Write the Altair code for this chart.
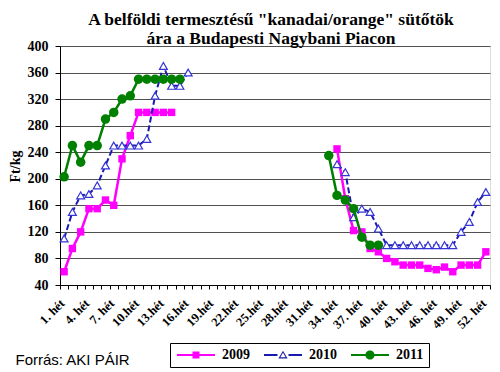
import altair as alt
import pandas as pd

# ---------------- data ----------------
years = ["2009", "2010", "2011"]
colors = ["#FF00FF", "#1A1AB0", "#008000"]

w2009_a = [1, 2, 3, 4, 5, 6, 7, 8, 9, 10, 11, 12, 13, 14]
v2009_a = [60, 95, 120, 155, 155, 168, 160, 230, 265, 300, 300, 300, 300, 300]
w2009_b = [34, 35, 36, 37, 38, 39, 40, 41, 42, 43, 44, 45, 46, 47, 48, 49, 50, 51, 52]
v2009_b = [245, 170, 122, 120, 95, 90, 80, 75, 70, 70, 70, 65, 63, 67, 60, 70, 70, 70, 90]

w2010_a = [1, 2, 3, 4, 5, 6, 7, 8, 9, 10, 11, 12, 13, 14, 15, 16]
v2010_a = [110, 150, 175, 177, 190, 220, 250, 250, 250, 250, 260, 325, 370, 340, 340, 360]
w2010_b = [34, 35, 36, 37, 38, 39, 40, 41, 42, 43, 44, 45, 46, 47, 48, 49, 50, 51, 52]
v2010_b = [222, 210, 142, 155, 150, 125, 100, 100, 100, 100, 100, 100, 100, 100, 100, 120, 135, 165, 180]

w2011_a = [1, 2, 3, 4, 5, 6, 7, 8, 9, 10, 11, 12, 13, 14, 15]
v2011_a = [203, 250, 225, 250, 250, 290, 300, 320, 325, 350, 350, 350, 350, 350, 350]
w2011_b = [33, 34, 35, 36, 37, 38, 39]
v2011_b = [235, 175, 168, 155, 112, 100, 100]

all_weeks = [1, 2, 3, 4, 5, 6, 7, 8, 9, 10, 11, 12, 13, 14, 15, 16, 17, 18, 19, 20,
             21, 22, 23, 24, 25, 26, 27, 28, 29, 30, 31, 32, 33, 34, 35, 36, 37, 38,
             39, 40, 41, 42, 43, 44, 45, 46, 47, 48, 49, 50, 51, 52]
tick_weeks = [1, 4, 7, 10, 13, 16, 19, 22, 25, 28, 31, 34, 37, 40, 43, 46, 49, 52]
tick_labels = ["1. hét", "4. hét", "7. hét", "10.hét", "13.hét", "16.hét", "19.hét",
               "22.hét", "25.hét", "28.hét", "31.hét", "34. hét", "37. hét", "40. hét",
               "43. hét", "46. hét", "49. hét", "52. hét"]
y_ticks = [40, 80, 120, 160, 200, 240, 280, 320, 360, 400]

title_lines = ['A belföldi termesztésű "kanadai/orange" sütőtök',
               'ára a Budapesti  Nagybani Piacon']

rows = []
for year, segs in [("2009", [(w2009_a, v2009_a), (w2009_b, v2009_b)]),
                   ("2010", [(w2010_a, v2010_a), (w2010_b, v2010_b)]),
                   ("2011", [(w2011_a, v2011_a), (w2011_b, v2011_b)])]:
    for i, (ws, vs) in enumerate(segs):
        for w, v in zip(ws, vs):
            rows.append({"year": year, "week": w, "value": v, "seg": f"{year}-{i}"})
df = pd.DataFrame(rows)

# ---------------- encodings ----------------
label_expr = ""
for w, l in zip(tick_weeks, tick_labels):
    label_expr += f"datum.value == {w} ? '{l}' : "
label_expr += "''"

serif = "Liberation Serif"

x_enc = alt.X(
    "week:O",
    scale=alt.Scale(type="band", domain=all_weeks, paddingInner=0, paddingOuter=0),
    title="Forrás: AKI PÁIR",
    axis=alt.Axis(
        labelExpr=label_expr, labelAngle=-45, labelAlign="right", labelBaseline="middle",
        labelPadding=12, labelOffset=-2, labelOverlap=False, labelFont=serif,
        labelFontWeight="bold", labelFontSize=12.5, labelColor="black",
        tickBand="extent", tickSize=4, tickColor="black", domainColor="black", grid=False,
        titleFont="Liberation Sans", titleFontWeight="normal", titleFontSize=15,
        titleColor="black", titleX=-45, titleY=74, titleAlign="left",
        titleBaseline="middle", titleAngle=0,
    ),
)
y_enc = alt.Y(
    "value:Q",
    scale=alt.Scale(domain=[40, 400], nice=False, zero=False),
    title="Ft/kg",
    axis=alt.Axis(
        values=y_ticks, labelFont=serif, labelFontWeight="bold", labelFontSize=14,
        labelColor="black", labelPadding=7, tickSize=5, tickColor="black",
        domainColor="black", grid=True, gridColor="#505050", gridWidth=1,
        titleFont=serif, titleFontWeight="bold", titleFontSize=14, titleColor="black",
        titleX=-45, titleY=120, titleAngle=-90, titleAlign="center", titleBaseline="middle",
    ),
)

base = alt.Chart(df)


def line_layer(year, color, width, dash=None):
    kw = dict(color=color, strokeWidth=width)
    if dash is not None:
        kw["strokeDash"] = dash
    return (base.transform_filter(alt.datum.year == year)
            .mark_line(**kw)
            .encode(x=x_enc, y=y_enc, detail="seg:N"))


l09 = line_layer("2009", "#FF00FF", 2.5)
p09 = (base.transform_filter(alt.datum.year == "2009")
       .mark_point(shape="square", filled=True, color="#FF00FF", size=55, opacity=1)
       .encode(x=x_enc, y=y_enc))
l10 = line_layer("2010", "#1A1AB0", 2, [6, 3])
p10 = (base.transform_filter(alt.datum.year == "2010")
       .mark_point(shape="triangle-up", filled=True, fill="white", stroke="#3535D5",
                   strokeWidth=1.2, size=62, opacity=1)
       .encode(x=x_enc, y=y_enc))
l11 = line_layer("2011", "#008000", 2.5)
p11 = (base.transform_filter(alt.datum.year == "2011")
       .mark_point(shape="circle", filled=True, color="#008000", size=90, opacity=1)
       .encode(x=x_enc, y=y_enc))

# ---------------- legend symbols (line + marker as custom paths) ----------------
SYM = 100          # symbol size -> radius 5 px, path units are px / 5
R = 5.0


def u(v):
    return f"{v / R:.3f}"


def rect(x0, x1, h):
    return f"M{u(x0)},{u(-h)}H{u(x1)}V{u(h)}H{u(x0)}Z"


cx = 14.0   # marker centre relative to symbol centre (px)
lh = 1.1    # half line thickness (px)
path09 = rect(-5, 33, lh) + f"M{u(cx-3.5)},{u(-3.5)}H{u(cx+3.5)}V{u(3.5)}H{u(cx-3.5)}Z"
path10 = (rect(-5, 8.5, lh) + rect(19.5, 33, lh)
          + f"M{u(cx)},{u(-4.3)}L{u(cx+4.6)},{u(3.4)}L{u(cx-4.6)},{u(3.4)}Z"
          + f"M{u(cx)},{u(-2.16)}L{u(cx-2.67)},{u(2.3)}L{u(cx+2.67)},{u(2.3)}Z")
path11 = (rect(-5, 33, lh)
          + f"M{u(cx-4.6)},0A{u(4.6)},{u(4.6)} 0 1,1 {u(cx+4.6)},0"
          + f"A{u(4.6)},{u(4.6)} 0 1,1 {u(cx-4.6)},0Z")

leg = alt.Legend(orient="none", legendX=110, legendY=297, direction="horizontal",
                 symbolSize=SYM, symbolStrokeWidth=0, labelFont=serif,
                 labelFontWeight="bold", labelFontSize=14, labelColor="black",
                 labelOffset=33, strokeColor="black", padding=5, columnPadding=12)

legend_layer = (base.transform_filter("false")
                .mark_point(filled=True, opacity=1, size=SYM)
                .encode(x=x_enc, y=y_enc,
                        color=alt.Color("year:N", title=None,
                                        scale=alt.Scale(domain=years, range=colors),
                                        legend=leg),
                        shape=alt.Shape("year:N", title=None,
                                        scale=alt.Scale(domain=years,
                                                        range=[path09, path10, path11]),
                                        legend=leg)))

chart = (alt.layer(l09, p09, l10, p10, l11, p11, legend_layer)
         .properties(
             width=430, height=239,
             title=alt.TitleParams(text=title_lines, anchor="middle", frame="group",
                                   font=serif, fontSize=17.5, fontWeight="bold",
                                   color="black", offset=6, lineHeight=19, dx=-4, dy=14),
             autosize=alt.AutoSizeParams(type="none"),
             padding={"left": 52, "top": 38, "right": 2, "bottom": 85},
         )
         .configure_view(stroke="black", strokeWidth=1)
         .configure(background="white"))

chart.save("out.html", embed_options={"renderer": "svg", "actions": False})
